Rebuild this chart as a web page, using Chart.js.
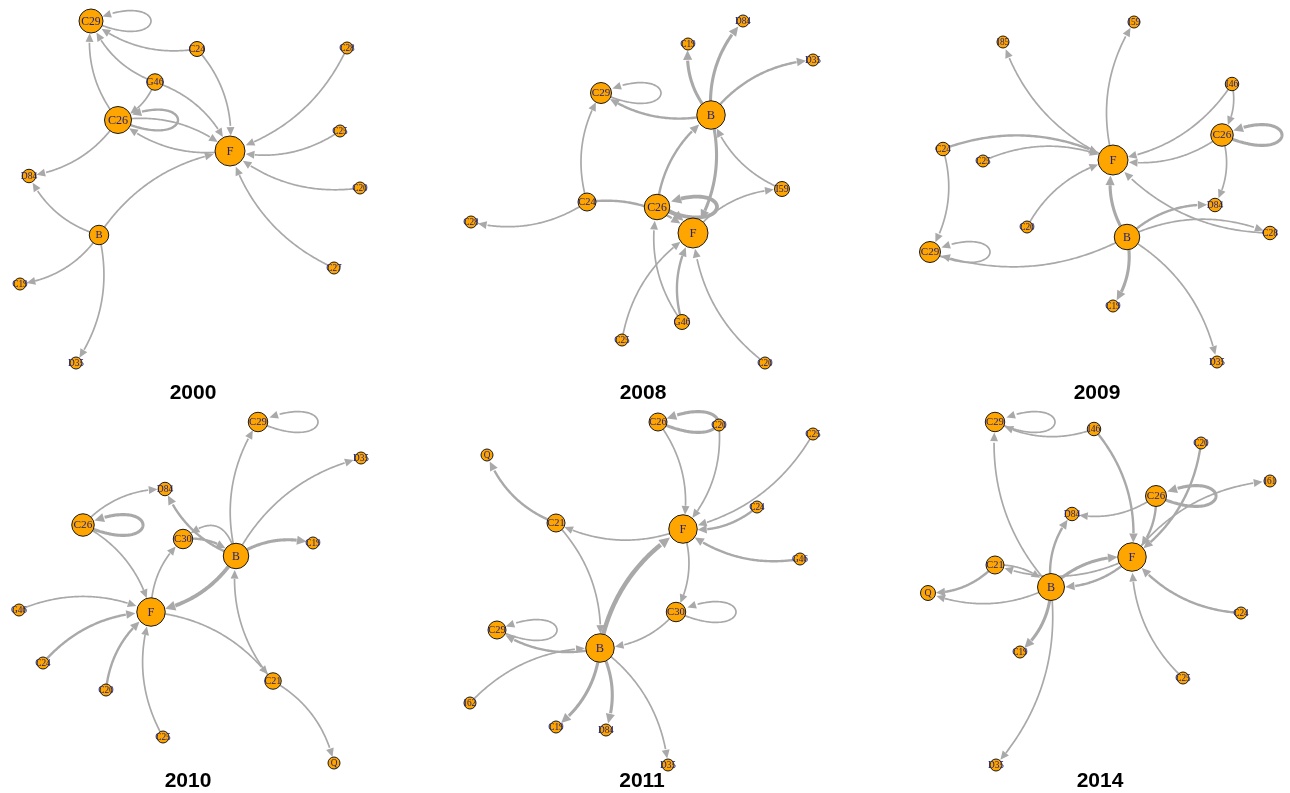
<!DOCTYPE html>
<html>
<head>
<meta charset="utf-8">
<script src="https://cdn.jsdelivr.net/npm/chart.js@4/dist/chart.umd.min.js"></script>
<style>
  html, body { margin: 0; padding: 0; background: #ffffff; width: 1290px; height: 793px; overflow: hidden; }
  #wrap { position: relative; width: 1290px; height: 793px; }
  #wrap canvas { position: absolute; }
</style>
</head>
<body>
<div id="wrap"></div>
<script>
// ---- Network per year: vertex names, layout coordinates, vertex sizes, directed edges ----

// 2000
const n2000 = ['C29','C24','C28','G46','C26','F','C25','D84','C20','B','C27','C19','D35'];
const x2000 = [91,197,347,155,118,230,340,29,360,99,334,20,76];
const y2000 = [21,49,48,82,120,151,131,176,188,235,268,284,363];
const v2000 = [16,10,8,11,18,20,8,9,8,13,8,8,8];
const from2000 = ['C29','C24','G46','C26','G46','G46','C24','C28','C25','C20','C27','B','C26','F','C26','C26','B','B','B'];
const to2000   = ['C29','C29','C29','C29','C26','F','F','F','F','F','F','F','F','C26','C26','D84','D84','C19','D35'];
const w2000    = [1,1,1,1,1,1,1,1,1,1,1,1,1,1,2,1,1,1,1];

// 2008
const n2008 = ['D84','C19','D35','C29','B','I59','C24','C26','C28','F','G46','C25','C20'];
const x2008 = [313,258,383,171,281,352,157,227,41,263,252,192,335];
const y2008 = [21,44,60,93,115,189,202,207,222,233,322,340,363];
const v2008 = [8,8,8,14,19,10,12,17,8,20,10,8,8];
const from2008 = ['B','B','B','B','C29','C24','C24','C24','C26','C26','B','C26','I59','F','C25','G46','G46','C20'];
const to2008   = ['C19','D84','D35','C29','C29','C29','C28','F','F','B','F','C26','B','I59','F','F','C26','F'];
const w2008    = [3,3,2,2,1,1,1,2,4,2,3,4,1,1,1,2,1,1];

// 2009
const n2009 = ['I59','I85','I46','C26','C24','F','C25','D84','C20','B','C28','C29','C19','D35'];
const x2009 = [274,143,372,362,83,253,123,355,167,267,410,70,253,357];
const y2009 = [22,42,84,135,149,160,161,205,227,237,233,252,306,362];
const v2009 = [8,8,9,15,9,20,8,9,8,17,9,14,8,8];
const from2009 = ['F','F','I46','I46','C26','C26','C26','C24','C25','C20','C24','C29','B','B','B','B','C28','B','B'];
const to2009   = ['I85','I59','F','C26','C26','F','D84','F','F','F','C29','C29','C29','F','D84','C28','F','C19','D35'];
const w2009    = [1,1,1,1,3,1,1,2,1,1,1,1,1,3,2,1,1,3,1];

// 2010
const n2010 = ['C29','D35','D84','C26','C30','C19','B','G46','F','C24','C20','C21','C25','Q'];
const x2010 = [258,361,165,83,183,313,236,19,151,43,106,273,163,334];
const y2010 = [25,61,92,128,142,146,159,213,215,266,293,284,340,366];
const v2010 = [13,8,9,15,13,8,17,8,19,8,8,11,8,8];
const from2010 = ['B','C29','B','C26','B','C26','C26','B','C30','B','B','F','G46','C24','C20','C25','F','C21','C21'];
const to2010   = ['C29','C29','D35','D84','D84','C26','F','C30','B','C19','F','C30','F','F','F','F','C21','B','Q'];
const w2010    = [1,1,1,1,2,3,1,1,2,3,4,1,1,2,2,1,1,1,1];

// 2011
const n2011 = ['C26','C20','C25','Q','C24','C21','F','G46','C30','C29','B','I62','C19','D84','D35'];
const x2011 = [228,289,383,57,327,126,253,370,246,67,170,40,126,176,238];
const y2011 = [25,28,37,58,110,126,132,162,215,233,251,306,330,333,368];
const v2011 = [12,8,8,8,8,12,19,8,13,12,19,8,8,8,8];
const from2011 = ['C26','C26','C20','C25','C24','G46','F','C21','C21','B','F','C30','C30','B','C29','I62','B','B','B'];
const to2011   = ['C26','F','F','F','F','F','C21','Q','B','F','C30','C30','B','C29','C29','B','C19','D84','D35'];
const w2011    = [3,1,1,1,2,2,1,2,1,5,1,1,1,2,1,1,3,3,1];

// 2014
const n2014 = ['C29','I46','C20','I61','C26','D84','F','C21','B','Q','C24','C19','C25','D35'];
const x2014 = [135,234,341,410,296,212,272,135,191,68,381,160,323,136];
const y2014 = [25,32,46,84,99,117,160,168,190,196,216,255,281,368];
const v2014 = [13,9,8,8,14,9,19,12,18,10,8,8,8,8];
const from2014 = ['I46','C29','B','I46','C20','C26','F','C26','C26','B','F','C21','B','F','C21','B','B','B','C24','C25'];
const to2014   = ['C29','C29','C29','F','F','F','I61','C26','D84','D84','C21','B','F','B','Q','Q','C19','D35','F','F'];
const w2014    = [1,1,1,2,2,2,1,3,1,2,1,1,3,2,2,1,3,1,2,1];

const years = ['2000','2008','2009','2010','2011','2014'];

// ---- Drawing style ----
const NODE_FILL = '#FFA500';
const NODE_FRAME = '#1a1a1a';
const EDGE_COLOR = '#A9A9A9';
const LABEL_COLOR = '#22227a';
const RADIUS_PER_SIZE = 0.75;
const BEND = 0.22;               // edge curvature, bows to the left of travel
const LOOP_LEN = 80, LOOP_SPREAD = 36;
const bendOverride = { '2010|B>C30': -0.8 };

// panel frames: [left, top, width, height, titleX, titleY]
const frames = {
  '2000': [0,   0,   430, 405, 193, 393.5],
  '2008': [430, 0,   430, 405, 213, 393.5],
  '2009': [860, 0,   430, 405, 237, 393.5],
  '2010': [0,   397, 430, 396, 188, 384],
  '2011': [430, 397, 430, 396, 212, 384],
  '2014': [860, 397, 430, 396, 240, 384]
};

const graphs = {
  '2000': { n: n2000, x: x2000, y: y2000, v: v2000, from: from2000, to: to2000, w: w2000 },
  '2008': { n: n2008, x: x2008, y: y2008, v: v2008, from: from2008, to: to2008, w: w2008 },
  '2009': { n: n2009, x: x2009, y: y2009, v: v2009, from: from2009, to: to2009, w: w2009 },
  '2010': { n: n2010, x: x2010, y: y2010, v: v2010, from: from2010, to: to2010, w: w2010 },
  '2011': { n: n2011, x: x2011, y: y2011, v: v2011, from: from2011, to: to2011, w: w2011 },
  '2014': { n: n2014, x: x2014, y: y2014, v: v2014, from: from2014, to: to2014, w: w2014 }
};

function quadPoints(a, c, b, steps) {
  const pts = [];
  for (let i = 0; i <= steps; i++) {
    const t = i / steps, u = 1 - t;
    pts.push({ x: u*u*a.x + 2*u*t*c.x + t*t*b.x, y: u*u*a.y + 2*u*t*c.y + t*t*b.y });
  }
  return pts;
}
function cubicPoints(a, c1, c2, b, steps) {
  const pts = [];
  for (let i = 0; i <= steps; i++) {
    const t = i / steps, u = 1 - t;
    pts.push({
      x: u*u*u*a.x + 3*u*u*t*c1.x + 3*u*t*t*c2.x + t*t*t*b.x,
      y: u*u*u*a.y + 3*u*u*t*c1.y + 3*u*t*t*c2.y + t*t*t*b.y
    });
  }
  return pts;
}

function strokeArrowPath(ctx, pts, target, rt, lw) {
  let tip = pts.length - 1;
  while (tip > 0 && Math.hypot(pts[tip].x - target.x, pts[tip].y - target.y) < rt) tip--;
  const L = 7.5 + lw * 0.7, hw = 3.2 + lw * 0.45;
  let base = tip, acc = 0;
  while (base > 0 && acc < L) {
    acc += Math.hypot(pts[base].x - pts[base-1].x, pts[base].y - pts[base-1].y);
    base--;
  }
  ctx.lineWidth = lw;
  ctx.beginPath();
  ctx.moveTo(pts[0].x, pts[0].y);
  for (let i = 1; i <= base; i++) ctx.lineTo(pts[i].x, pts[i].y);
  ctx.stroke();
  const dx = pts[tip].x - pts[base].x, dy = pts[tip].y - pts[base].y;
  const d = Math.hypot(dx, dy) || 1;
  const ux = dx / d, uy = dy / d;
  const tx = pts[tip].x, ty = pts[tip].y;
  const bx = tx - ux * L, by = ty - uy * L;
  ctx.beginPath();
  ctx.moveTo(tx, ty);
  ctx.lineTo(bx - uy * hw, by + ux * hw);
  ctx.lineTo(bx + uy * hw, by - ux * hw);
  ctx.closePath();
  ctx.fill();
}

const graphPlugin = {
  id: 'graph',
  beforeDatasetsDraw(chart, args, opts) {
    const g = graphs[opts.year];
    const sx = chart.scales.x, sy = chart.scales.y, ctx = chart.ctx;
    const pos = {}, rad = {};
    g.n.forEach((name, i) => {
      pos[name] = { x: sx.getPixelForValue(g.x[i]), y: sy.getPixelForValue(g.y[i]) };
      rad[name] = g.v[i] * RADIUS_PER_SIZE;
    });
    ctx.save();
    ctx.strokeStyle = EDGE_COLOR;
    ctx.fillStyle = EDGE_COLOR;
    ctx.lineCap = 'butt';
    ctx.lineJoin = 'round';
    g.from.forEach((f, i) => {
      const t = g.to[i];
      const a = pos[f], b = pos[t];
      const lw = 1.0 + 0.7 * g.w[i];
      let pts;
      if (f === t) {
        pts = cubicPoints(a, { x: a.x + LOOP_LEN, y: a.y + LOOP_SPREAD },
                             { x: a.x + LOOP_LEN, y: a.y - LOOP_SPREAD }, a, 80);
      } else {
        const k = bendOverride[opts.year + '|' + f + '>' + t];
        const bend = k === undefined ? BEND : k;
        const dx = b.x - a.x, dy = b.y - a.y;
        const c = { x: (a.x + b.x) / 2 + bend * dy, y: (a.y + b.y) / 2 - bend * dx };
        pts = quadPoints(a, c, b, 90);
      }
      strokeArrowPath(ctx, pts, b, rad[t], lw);
    });
    ctx.restore();
  },
  afterDatasetsDraw(chart, args, opts) {
    const g = graphs[opts.year];
    const sx = chart.scales.x, sy = chart.scales.y, ctx = chart.ctx;
    ctx.save();
    ctx.fillStyle = LABEL_COLOR;
    ctx.textAlign = 'center';
    ctx.textBaseline = 'middle';
    g.n.forEach((name, i) => {
      const r = g.v[i] * RADIUS_PER_SIZE;
      ctx.font = (7 + r * 0.38).toFixed(1) + 'px "Liberation Serif", "DejaVu Serif", serif';
      ctx.fillText(name, sx.getPixelForValue(g.x[i]), sy.getPixelForValue(g.y[i]) + 0.5);
    });
    ctx.restore();
  },
  afterDraw(chart, args, opts) {
    const f = frames[opts.year];
    const ctx = chart.ctx;
    ctx.save();
    ctx.fillStyle = '#000000';
    ctx.font = 'bold 21px "Liberation Sans", Arial, sans-serif';
    ctx.textAlign = 'center';
    ctx.textBaseline = 'middle';
    ctx.fillText(opts.year, f[4], f[5]);
    ctx.restore();
  }
};

const wrap = document.getElementById('wrap');
years.forEach(year => {
  const f = frames[year];
  const g = graphs[year];
  const cv = document.createElement('canvas');
  cv.width = f[2];
  cv.height = f[3];
  cv.style.left = f[0] + 'px';
  cv.style.top = f[1] + 'px';
  cv.style.width = f[2] + 'px';
  cv.style.height = f[3] + 'px';
  wrap.appendChild(cv);
  const radii = g.v.map(s => s * RADIUS_PER_SIZE);
  new Chart(cv, {
    type: 'scatter',
    data: {
      datasets: [{
        label: year,
        data: g.x.map((x, i) => ({ x: x, y: g.y[i] })),
        pointRadius: radii,
        pointHoverRadius: radii,
        pointStyle: 'circle',
        backgroundColor: NODE_FILL,
        borderColor: NODE_FRAME,
        borderWidth: 1,
        clip: false
      }]
    },
    options: {
      responsive: false,
      animation: false,
      events: [],
      layout: { padding: 0, autoPadding: false },
      scales: {
        x: { type: 'linear', min: 0, max: f[2], display: false },
        y: { type: 'linear', min: 0, max: f[3], reverse: true, display: false }
      },
      plugins: {
        legend: { display: false },
        tooltip: { enabled: false },
        title: { display: false },
        graph: { year: year }
      }
    },
    plugins: [graphPlugin]
  });
});
</script>
</body>
</html>
